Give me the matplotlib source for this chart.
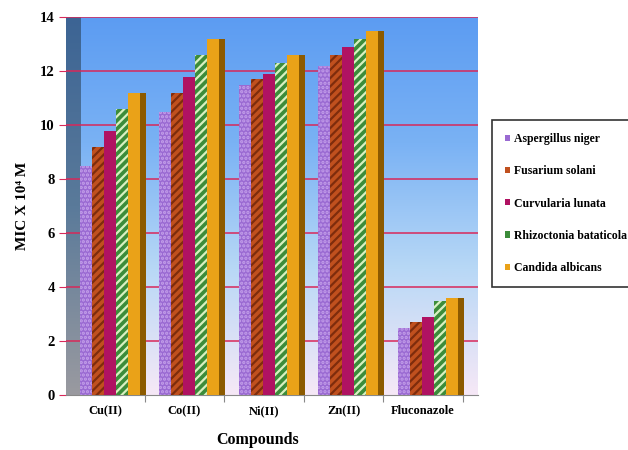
import numpy as np
import matplotlib.pyplot as plt
from matplotlib.patches import Patch
from matplotlib.colors import LinearSegmentedColormap

plt.rcParams['font.family'] = ['Liberation Serif', 'DejaVu Serif']
plt.rcParams['font.weight'] = 'bold'
plt.rcParams['hatch.linewidth'] = 1.6

compounds = ['Cu(II)', 'Co(II)', 'Ni(II)', 'Zn(II)', 'Fluconazole']
organisms = ['Aspergillus niger', 'Fusarium solani', 'Curvularia lunata',
             'Rhizoctonia bataticola', 'Candida albicans']
aspergillus = [8.5, 10.5, 11.5, 12.2, 2.5]
fusarium = [9.2, 11.2, 11.7, 12.6, 2.7]
curvularia = [9.8, 11.8, 11.9, 12.9, 2.9]
rhizoctonia = [10.6, 12.6, 12.3, 13.2, 3.5]
candida = [11.2, 13.2, 12.6, 13.5, 3.6]
series = [aspergillus, fusarium, curvularia, rhizoctonia, candida]

# face, hatch colour, hatch, side colour
styles = [
    ('#9a6ad2', '#c4a0ea', '....', '#6e48a0'),
    ('#c0501e', '#7e2c0c', '////', '#7e2c0c'),
    ('#b01262', '#b01262', '', '#700a3c'),
    ('#3c8c3a', '#d8f0c0', '////', '#255a22'),
    ('#eaa218', '#eaa218', '', '#8c5a00'),
]

fig = plt.figure(figsize=(6.28, 4.5), dpi=100)
ax = fig.add_axes([0.105, 0.122, 0.656, 0.840])

x0, x1 = -0.49, 4.69
ax.set_xlim(x0, x1)
ax.set_ylim(0, 14)

# background gradient
bg = LinearSegmentedColormap.from_list('bg', ['#f6e8f6', '#b8d8f6', '#7ab2f4', '#5c9cf2'])
grad = np.linspace(0, 1, 256).reshape(-1, 1)
ax.imshow(grad, cmap=bg, aspect='auto', origin='lower',
          extent=[x0, x1, 0, 14], zorder=0)
# left wall
wall = LinearSegmentedColormap.from_list('wall', ['#9a9aa0', '#5a7a9a', '#3c6494'])
wall_w = 14 / 79.5
ax.imshow(grad, cmap=wall, aspect='auto', origin='lower',
          extent=[x0, x0 + wall_w, 0, 14], zorder=0.5)

for y in range(2, 15, 2):
    ax.axhline(y, color='#d8285a', lw=1.1, zorder=1)

xs = np.arange(len(compounds))
w = 0.151
side = 0.075
for i, vals in enumerate(series):
    face, hcol, hatch, scol = styles[i]
    left = xs - 0.315 + i * w
    ax.bar(left + w, vals, width=side, align='edge', color=scol,
           linewidth=0, zorder=2 + i)
    ax.bar(left, vals, width=w, align='edge', facecolor=face,
           edgecolor=hcol, hatch=hatch, linewidth=0, zorder=2.5 + i)

# category labels
ax.set_xticks(np.arange(0.5, 5, 1))
ax.set_xticklabels([])
ax.tick_params(axis='x', length=5, color='#888888')
for xi, name in zip(xs, compounds):
    ax.text(xi, -0.042, name, transform=ax.get_xaxis_transform(),
            ha='center', va='center', fontsize=9, fontweight='bold')

ax.set_yticks(range(0, 15, 2))
ax.set_yticklabels([str(v) for v in range(0, 15, 2)], fontsize=10.5, fontweight='bold')
ax.tick_params(axis='y', length=5, color='#d8285a', pad=3)
for s in ['top', 'right', 'left']:
    ax.spines[s].set_visible(False)
ax.spines['bottom'].set_color('#888888')

ax.set_ylabel('MIC X 10\u2074 M', fontsize=11, fontweight='bold', labelpad=8)
fig.text(0.41, 0.022, 'Compounds', fontsize=11.5, fontweight='bold',
         ha='center', va='center')

handles = [Patch(facecolor=s[0]) for s in styles]
leg = fig.legend(handles, organisms, loc='upper left',
                 bbox_to_anchor=(0.783, 0.733), frameon=True, fancybox=False,
                 edgecolor='black', handlelength=0.45,
                 handleheight=0.45, handletextpad=0.3, labelspacing=1.71,
                 borderpad=1.1, borderaxespad=0,
                 prop={'weight': 'bold', 'size': 8.5})
leg.get_frame().set_linewidth(1.2)

fig.savefig('out.png', dpi=100)
